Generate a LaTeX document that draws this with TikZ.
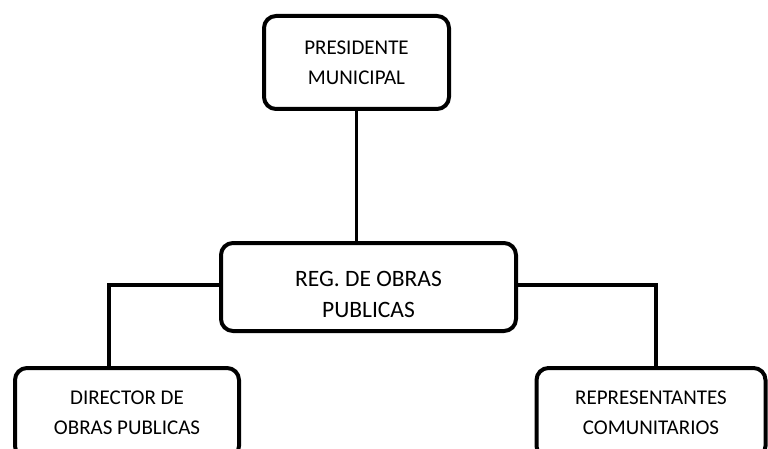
\documentclass[tikz,border=0pt]{standalone}
\usepackage{fontspec}
\setmainfont{Carlito}
\begin{document}
\begin{tikzpicture}[x=1pt,y=-1pt,line width=4pt,
	caja/.style={draw,rounded corners=12pt,align=center,inner sep=0pt,font=\fontsize{21}{30}\selectfont},
	enlace/.style={draw,line width=3.6pt}]
		\useasboundingbox (0,0) rectangle (768,449);
		\clip (0,0) rectangle (768,449);
		\node[caja,minimum width=185pt,minimum height=93pt] (pres) at (356.5,62.5) {PRESIDENTE\\MUNICIPAL};
		\node[caja,minimum width=295pt,minimum height=88pt,font=\fontsize{23.5}{31}\selectfont] (reg) at (368.5,287) {\rule{0pt}{30pt}REG. DE OBRAS\\PUBLICAS};
		\node[caja,minimum width=224pt,minimum height=90pt] (dir) at (127,413) {DIRECTOR DE\\OBRAS PUBLICAS};
		\node[caja,minimum width=229pt,minimum height=90pt] (rep) at (651,413) {REPRESENTANTES\\COMUNITARIOS};
		\draw[enlace] (pres.south) -- (pres.south |- reg.north);
		\draw[enlace] ([yshift=2pt]reg.west) -| ([xshift=-18pt]dir.north);
		\draw[enlace] ([yshift=2pt]reg.east) -| ([xshift=5pt]rep.north);
	\end{tikzpicture}
\end{document}
